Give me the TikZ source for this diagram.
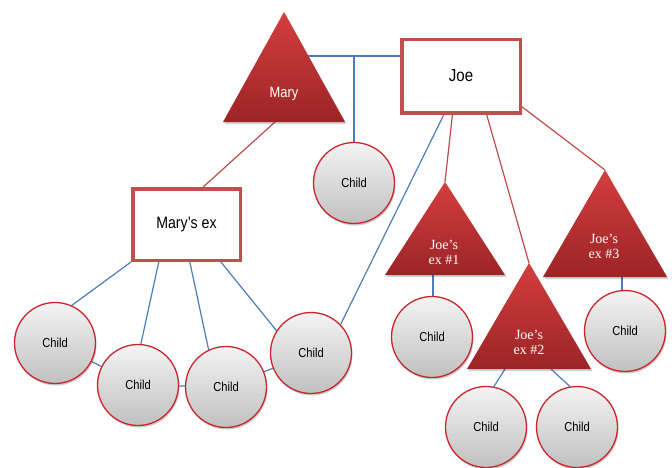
\documentclass[tikz,border=0pt]{standalone}
\usepackage{fontspec}
\setmainfont{Liberation Serif}
\setsansfont[FakeStretch=0.86]{Liberation Sans}
\usetikzlibrary{shadows,calc}
\pgfdeclarelayer{bg}
\pgfsetlayers{bg,main}
\definecolor{circred}{RGB}{200,38,44}
\definecolor{cgtop}{RGB}{244,244,244}
\definecolor{cgbot}{RGB}{192,192,192}
\definecolor{boxred}{RGB}{192,80,77}
\definecolor{trtop}{RGB}{212,62,62}
\definecolor{trbot}{RGB}{156,36,38}
\definecolor{lnblue}{RGB}{74,126,187}
\definecolor{lnred}{RGB}{190,75,72}
\begin{document}
\begin{tikzpicture}[x=1pt,y=-1pt,
  childnode/.style={circle, draw=circred, line width=1.3pt, top color=cgtop, bottom color=cgbot,
    minimum size=81pt, inner sep=0pt, font=\sffamily\fontsize{13}{15}\selectfont,
    drop shadow={opacity=0.2, shadow xshift=1pt, shadow yshift=-2pt, fill=black}},
  boxnode/.style={draw=boxred, line width=3.5pt, fill=white, inner sep=0pt},
  trishape/.style={top color=trtop, bottom color=trbot, draw=none},
  trishadow/.style={fill=black, opacity=0.18},
  trilabel/.style={text=white, align=center, font=\fontsize{14}{15}\selectfont},
  blueline/.style={draw=lnblue, line width=1.2pt},
  redline/.style={draw=lnred, line width=1.2pt}]
\useasboundingbox (0,0) rectangle (672,467);

% triangle key points
\coordinate (mary-top) at (284,12);
\coordinate (ex1-top) at (445,182);
\coordinate (ex2-top) at (529,263);
\coordinate (ex3-top) at (605,170);
\coordinate (mary-r) at (308.4,56);
\coordinate (mary-b) at (275,122);
\coordinate (ex1-b) at (433,275);
\coordinate (ex2-bl) at (505,369);
\coordinate (ex2-br) at (551,369);
\coordinate (ex3-b) at (622,277);

% triangles
\fill[trishadow] ($(mary-top)+(1.5,2)$) -- ++(61,110) -- ++(-122,0) -- cycle;
\shade[trishape] (mary-top) -- ++(61,110) -- ++(-122,0) -- cycle;
\fill[trishadow] ($(ex1-top)+(1.5,2)$) -- ++(60,93) -- ++(-120,0) -- cycle;
\shade[trishape] (ex1-top) -- ++(60,93) -- ++(-120,0) -- cycle;
\fill[trishadow] ($(ex2-top)+(1.5,2)$) -- ++(62,106) -- ++(-124,0) -- cycle;
\shade[trishape] (ex2-top) -- ++(62,106) -- ++(-124,0) -- cycle;
\fill[trishadow] ($(ex3-top)+(1.5,2)$) -- ++(62,107) -- ++(-124,0) -- cycle;
\shade[trishape] (ex3-top) -- ++(62,107) -- ++(-124,0) -- cycle;

\node[trilabel, font=\sffamily\fontsize{15}{16}\selectfont] (mary) at (284,94) {Mary};
\node[trilabel] (ex1) at (444,252) {Joe’s\\ex \#1};
\node[trilabel] (ex2) at (529,342) {Joe’s\\ex \#2};
\node[trilabel] (ex3) at (604,246.5) {Joe’s\\ex \#3};

% boxes
\node[boxnode, minimum width=118.5pt, minimum height=73.5pt, font=\sffamily\fontsize{17.5}{19}\selectfont] (joe) at (461,76) {Joe};
\node[boxnode, minimum width=107.5pt, minimum height=71.5pt, font=\sffamily\fontsize{16.5}{18}\selectfont] (mex) at (186.5,224.5) {Mary’s ex};

% children
\node[childnode] (c1) at (354,183) {Child};
\node[childnode] (ca) at (55,343) {Child};
\node[childnode] (cb) at (138,385) {Child};
\node[childnode] (cc) at (226,387) {Child};
\node[childnode] (cd) at (311,353) {Child};
\node[childnode] (ce1) at (432,337) {Child};
\node[childnode] (ce3) at (625,331) {Child};
\node[childnode] (cf1) at (486,427) {Child};
\node[childnode] (cf2) at (577,427) {Child};

\begin{pgfonlayer}{bg}
  % blue lines
  \draw[blueline] (mary-r) -- (mary-r -| joe.west);
  \draw[blueline] (c1.north |- mary-r) -- (c1.north);
  \draw[blueline] (mex.south west) -- (ca.66);
  \draw[blueline] ($(mex.south west)!0.25!(mex.south east)$) -- (cb.86);
  \draw[blueline] ($(mex.south west)!0.53!(mex.south east)$) -- (cc.115);
  \draw[blueline] ($(mex.south west)!0.81!(mex.south east)$) -- (cd.147);
  \draw[blueline] (ca.center) -- (cb.center);
  \draw[blueline] (cb.center) -- (cc.center);
  \draw[blueline] (cc.center) -- (cd.center);
  \draw[blueline] ($(joe.south west)!0.36!(joe.south east)$) -- (cd.44);
  \draw[blueline] (ex1-b) -- (ex1-b |- ce1.north);
  \draw[blueline] (ex3-b) -- (ex3-b |- ce3.north);
  \draw[blueline] (ex2-bl) -- (cf1.79);
  \draw[blueline] (ex2-br) -- (cf2.100);
  % red lines
  \draw[redline] (mary-b) -- ($(mex.north west)!0.65!(mex.north east)$);
  \draw[redline] ($(joe.south west)!0.43!(joe.south east)$) -- (ex1-top);
  \draw[redline] ($(joe.south west)!0.71!(joe.south east)$) -- (ex2-top);
  \draw[redline] ($(joe.north east)!0.9!(joe.south east)$) -- (ex3-top);
\end{pgfonlayer}
\end{tikzpicture}
\end{document}
